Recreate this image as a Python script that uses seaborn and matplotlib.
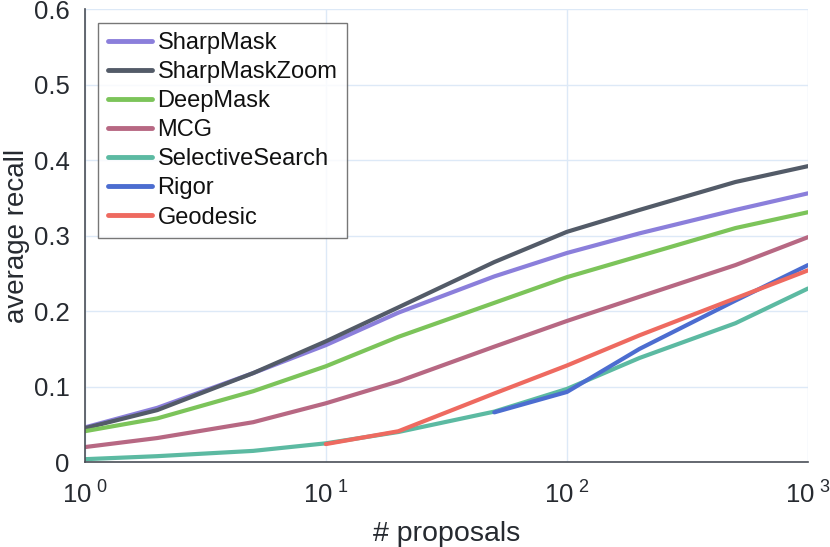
import numpy as np
import pandas as pd
import seaborn as sns
import matplotlib.pyplot as plt
from matplotlib.ticker import FixedLocator, NullLocator, FuncFormatter

proposals = [1, 2, 5, 10, 20, 50, 100, 200, 500, 1000]
sharpmask = [0.046, 0.072, 0.118, 0.155, 0.198, 0.246, 0.277, 0.303, 0.334, 0.356]
sharpmaskzoom = [0.045, 0.069, 0.118, 0.160, 0.205, 0.265, 0.305, 0.334, 0.371, 0.392]
deepmask = [0.041, 0.058, 0.094, 0.127, 0.166, 0.211, 0.245, 0.273, 0.310, 0.331]
mcg = [0.020, 0.032, 0.053, 0.078, 0.107, 0.153, 0.187, 0.219, 0.261, 0.298]
selective_search = [0.004, 0.008, 0.015, 0.025, 0.040, 0.067, 0.097, 0.138, 0.184, 0.230]
rigor_proposals = [50, 100, 200, 500, 1000]
rigor = [0.066, 0.093, 0.150, 0.214, 0.261]
geodesic_proposals = [10, 20, 50, 100, 200, 500, 1000]
geodesic = [0.024, 0.041, 0.091, 0.128, 0.168, 0.217, 0.254]

methods = ["SharpMask", "SharpMaskZoom", "DeepMask", "MCG",
           "SelectiveSearch", "Rigor", "Geodesic"]
colors = ["#8b7fdb", "#535b68", "#7cc45a", "#b76883",
          "#5cbaa2", "#4c6dd0", "#ee6a60"]

series = {
    "SharpMask": (proposals, sharpmask),
    "SharpMaskZoom": (proposals, sharpmaskzoom),
    "DeepMask": (proposals, deepmask),
    "MCG": (proposals, mcg),
    "SelectiveSearch": (proposals, selective_search),
    "Rigor": (rigor_proposals, rigor),
    "Geodesic": (geodesic_proposals, geodesic),
}
rows = []
for name, (xs, ys) in series.items():
    for x, y in zip(xs, ys):
        rows.append({"proposals": x, "recall": y, "method": name})
df = pd.DataFrame(rows)

sns.set_theme(style="white")
plt.rcParams['font.family'] = ['Liberation Sans', 'DejaVu Sans']
text_color = "#262a30"

fig = plt.figure(figsize=(8.3, 5.47), dpi=100)
ax = fig.add_axes([0.102, 0.155, 0.8715, 0.8285])
sns.lineplot(data=df, x="proposals", y="recall", hue="method",
             hue_order=methods, palette=colors, linewidth=3,
             estimator=None, sort=False, ax=ax)

ax.set_xscale("log")
ax.set_xlim(1, 1000)
ax.set_ylim(0, 0.6)
ax.xaxis.set_major_locator(FixedLocator([1, 10, 100, 1000]))
ax.xaxis.set_minor_locator(NullLocator())
ax.xaxis.set_major_formatter(FuncFormatter(
    lambda v, p: r"$\mathregular{10^{\ %d}}$" % round(np.log10(v))))
ax.set_yticks([0, 0.1, 0.2, 0.3, 0.4, 0.5, 0.6])
ax.yaxis.set_major_formatter(FuncFormatter(lambda v, p: "%g" % round(v, 2)))

ax.grid(True, color="#dde9f7", linewidth=1)
ax.set_axisbelow(True)
for side in ["top", "right"]:
    ax.spines[side].set_visible(False)
for side in ["left", "bottom"]:
    ax.spines[side].set_color("#4a4f57")
    ax.spines[side].set_linewidth(1.2)
ax.tick_params(direction="in", length=5, width=1, colors="#4a4f57",
               labelcolor=text_color, labelsize=18.5)
ax.tick_params(axis="y", pad=11)
ax.tick_params(axis="x", pad=14)

ax.set_xlabel("# proposals", fontsize=20.5, color=text_color, labelpad=9)
ax.set_ylabel("average recall", fontsize=20, color=text_color, labelpad=2.5)

leg = ax.legend(loc="upper left", bbox_to_anchor=(0.019, 0.97), fontsize=17,
                frameon=True, fancybox=False, handlelength=1.85,
                labelspacing=0.3, borderpad=0.4, handletextpad=0.25,
                borderaxespad=0)
leg.get_frame().set_edgecolor("#555555")
leg.get_frame().set_linewidth(1)
for line in leg.get_lines():
    line.set_linewidth(3.5)
for t in leg.get_texts():
    t.set_color("#111111")

plt.savefig("out.png", dpi=100)
